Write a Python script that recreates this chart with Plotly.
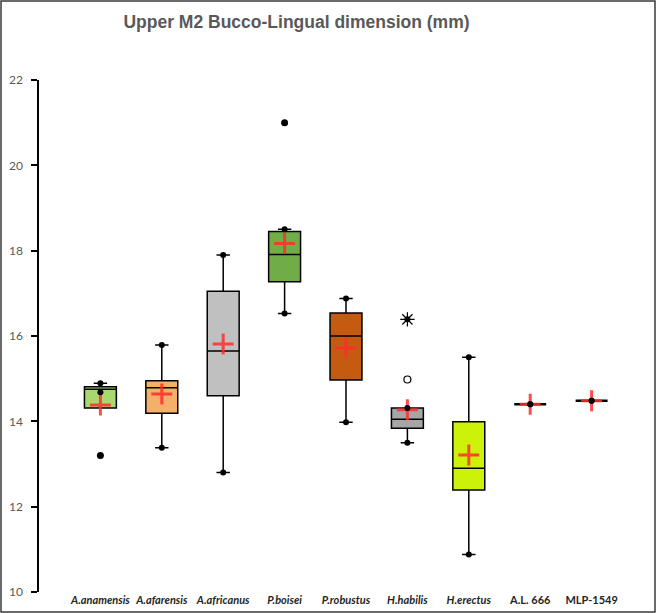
import plotly.graph_objects as go

categories = ["A.anamensis", "A.afarensis", "A.africanus", "P.boisei", "P.robustus",
              "H.habilis", "H.erectus", "A.L. 666", "MLP-1549"]
tick_labels = ["<b><i>A.anamensis</i></b>", "<b><i>A.afarensis</i></b>", "<b><i>A.africanus</i></b>",
               "<b><i>P.boisei</i></b>", "<b><i>P.robustus</i></b>", "<b><i>H.habilis</i></b>",
               "<b><i>H.erectus</i></b>", "<b>A.L. 666</b>", "<b>MLP-1549</b>"]
lower_whisker = [14.68, 13.38, 12.8, 16.53, 13.98, 13.5, 10.88, 14.40, 14.48]
q1 = [14.31, 14.19, 14.6, 17.27, 14.97, 13.84, 12.39, 14.40, 14.48]
median = [14.75, 14.79, 15.65, 17.91, 16.0, 14.05, 12.9, 14.40, 14.48]
q3 = [14.81, 14.95, 17.05, 18.45, 16.54, 14.31, 13.99, 14.40, 14.48]
upper_whisker = [14.89, 15.79, 17.9, 18.5, 16.88, 14.31, 15.5, 14.40, 14.48]
means = [14.38, 14.64, 15.81, 18.17, 15.72, 14.27, 13.21, 14.40, 14.48]
fills = ["#a9d86e", "#f4b06a", "#c0c0c0", "#70ad47", "#c55a11", "#a6a6a6", "#ccf20a",
         "rgba(0,0,0,0)", "rgba(0,0,0,0)"]
outlier_cat = ["A.anamensis", "P.boisei"]
outlier_val = [13.2, 21.0]
open_outlier_cat = ["H.habilis"]
open_outlier_val = [14.98]
extreme_cat = ["H.habilis"]
extreme_val = [16.39]
y_ticks = [10, 12, 14, 16, 18, 20, 22]

fig = go.Figure()
for i, c in enumerate(categories):
    single = q1[i] == q3[i]
    fig.add_trace(go.Box(
        x=[c], q1=[q1[i]], median=[median[i]], q3=[q3[i]],
        lowerfence=[lower_whisker[i]], upperfence=[upper_whisker[i]],
        fillcolor=fills[i], line=dict(color="black", width=2.5 if single else 1.5),
        width=0.52, whiskerwidth=0.42, boxpoints=False, showlegend=False,
        hoverinfo="skip"))

# mean markers
fig.add_trace(go.Scatter(
    x=categories, y=means, mode="markers", showlegend=False,
    marker=dict(symbol="cross-thin", size=15, line=dict(color="rgba(255,45,45,0.85)", width=3))))
# whisker end dots
wc = [c for c in categories for _ in range(2)]
wv = [v for i in range(len(categories)) for v in (lower_whisker[i], upper_whisker[i])]
fig.add_trace(go.Scatter(
    x=wc, y=wv, mode="markers", showlegend=False,
    marker=dict(symbol="circle", size=6, color="#000000")))
# outliers
fig.add_trace(go.Scatter(
    x=outlier_cat, y=outlier_val, mode="markers", showlegend=False,
    marker=dict(symbol="circle", size=7, color="#000000", opacity=1)))
fig.add_trace(go.Scatter(
    x=open_outlier_cat, y=open_outlier_val, mode="markers", showlegend=False,
    marker=dict(symbol="circle-open", size=7, color="#000000", line=dict(width=1.2))))
fig.add_trace(go.Scatter(
    x=extreme_cat, y=extreme_val, mode="markers", showlegend=False,
    marker=dict(symbol="asterisk-open", size=12, color="#000000", line=dict(color="#000000", width=1.2))))
fig.add_trace(go.Scatter(
    x=extreme_cat, y=extreme_val, mode="markers", showlegend=False,
    marker=dict(symbol="circle", size=6, color="#000000")))

fig.update_layout(
    width=656, height=613,
    margin=dict(l=39, r=3, t=80, b=21),
    paper_bgcolor="white", plot_bgcolor="white",
    font=dict(family="Lato, Liberation Sans, Arial", color="#404040"),
    title=dict(text="<b>Upper M2 Bucco-Lingual dimension (mm)</b>",
               x=0.452, xanchor="center", y=1 - 22 / 613, yanchor="middle", yref="container",
               font=dict(family="Liberation Sans, Arial", size=17.5, color="#595959")),
    xaxis=dict(type="category", categoryarray=categories, categoryorder="array",
               range=[-1, 9], tickmode="array", tickvals=categories, ticktext=tick_labels,
               showline=False, showgrid=False, zeroline=False, ticks="",
               tickfont=dict(size=11, color="#262626", family="Lato, Liberation Sans")),
    yaxis=dict(range=[10, 22], tickvals=y_ticks, showgrid=False, zeroline=False,
               showline=True, linecolor="black", linewidth=1.5,
               ticks="outside", ticklen=6, tickwidth=1.5, tickcolor="black",
               ticklabelstandoff=6,
               tickfont=dict(size=12, color="#595959", family="Lato, Liberation Sans")),
    yaxis2=dict(range=[10, 22], overlaying="y", tickvals=y_ticks, showticklabels=False,
                showgrid=False, zeroline=False, showline=False,
                ticks="inside", ticklen=6, tickwidth=1.5, tickcolor="black"),
)

pw = 656 - 39 - 3
ph = 613 - 80 - 21
fig.add_shape(type="rect", xref="paper", yref="paper",
              x0=-38 / pw, x1=1 + 2 / pw, y0=-20 / ph, y1=1 + 79 / ph,
              line=dict(color="#3a3a3a", width=1.5), fillcolor="rgba(0,0,0,0)", layer="above")

fig.write_html("out.html", config={"displayModeBar": False},
               post_script="document.body.style.margin='0px';")
